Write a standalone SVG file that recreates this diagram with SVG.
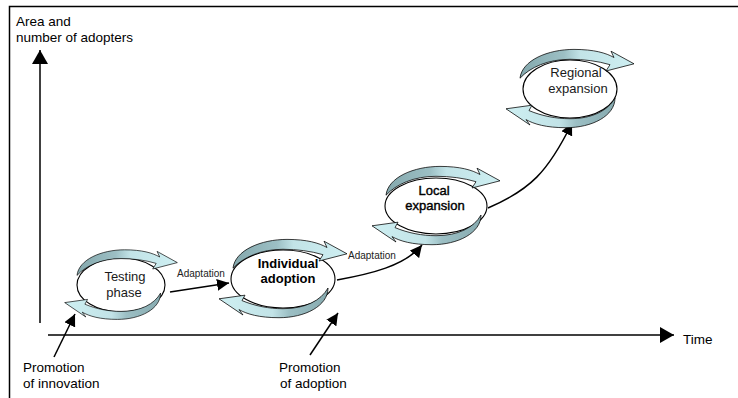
<svg xmlns="http://www.w3.org/2000/svg" width="738" height="398" viewBox="0 0 738 398">
<style>
.lbl{font-family:"Liberation Sans",Arial,sans-serif;font-size:13.5px;fill:#000}
.nl{font-family:"Liberation Sans",Arial,sans-serif;font-size:13px;fill:#1a1a1a;text-anchor:middle}
.b{font-weight:bold;fill:#000}
.sb{fill:#000;stroke:#000;stroke-width:0.4}
.ad{font-family:"Liberation Sans",Arial,sans-serif;font-size:10px;fill:#222}
.ln{fill:none;stroke:#000;stroke-width:1.5}
.ell{fill:#fff;stroke:#000;stroke-width:1.1}
.arc{fill:url(#g);stroke:#000;stroke-width:0.8;vector-effect:non-scaling-stroke}
</style>
<defs>
<linearGradient id="g" gradientUnits="userSpaceOnUse" x1="-50" y1="0" x2="60" y2="0">
<stop offset="0" stop-color="#84a8ad"/>
<stop offset="0.4" stop-color="#9cbfc4"/>
<stop offset="0.55" stop-color="#c2e3e7"/>
<stop offset="1" stop-color="#cdeef1"/>
</linearGradient>
<linearGradient id="g2" gradientUnits="userSpaceOnUse" x1="-60" y1="0" x2="50" y2="0">
<stop offset="0" stop-color="#cdeef1"/>
<stop offset="0.45" stop-color="#c2e3e7"/>
<stop offset="0.6" stop-color="#9cbfc4"/>
<stop offset="1" stop-color="#84a8ad"/>
</linearGradient>
<path id="up" d="M-50,-12 C-48,-32 -22,-44 4,-44 C24,-44 36,-40 44,-35 L41,-42 L64,-28 L36,-20 L40,-27 C28,-31 14,-33 0,-33 C-22,-33 -40,-24 -50,-12 Z"/>
<path id="dn" d="M45,10 C45,30 22,43 -4,43 C-24,43 -36,39 -44,34 L-40,40 L-64,22 L-38,18 L-41,24 C-28,30 -14,33 0,33 C22,33 38,24 45,10 Z"/>
<marker id="ah" markerUnits="userSpaceOnUse" markerWidth="12" markerHeight="12" refX="12" refY="6" orient="auto"><path d="M0,0 L12,6 L0,12 Z" fill="#000"/></marker>
<marker id="ax" markerUnits="userSpaceOnUse" markerWidth="14" markerHeight="16" refX="14" refY="8" orient="auto"><path d="M0,0 L14,8 L0,16 Z" fill="#000"/></marker>
</defs>
<rect width="738" height="398" fill="#fff"/>
<path class="ln" d="M9.5,398 L9.5,6.5 L738,6.5"/>

<g id="axes">
<path class="ln" d="M40,323 L40,50" marker-end="url(#ax)"/>
<path class="ln" d="M48,335 L674,335" marker-end="url(#ax)"/>
</g>
<text class="lbl" x="16" y="26">Area and</text>
<text class="lbl" x="16" y="42">number of adopters</text>
<text class="lbl" x="683" y="344">Time</text>

<g id="connectors">
<path class="ln" d="M170,292 L229,283" marker-end="url(#ah)"/>
<path class="ln" d="M337,280 C370,274 405,266 422,245" marker-end="url(#ah)"/>
<path class="ln" d="M488,208 C530,190 548,172 572,123" marker-end="url(#ah)"/>
<path class="ln" d="M54,357 L75,314" marker-end="url(#ah)"/>
<path class="ln" d="M310,355 L338,313" marker-end="url(#ah)"/>
</g>
<text class="ad" x="177" y="277">Adaptation</text>
<text class="ad" x="348" y="259">Adaptation</text>

<g id="testing">
<ellipse class="ell" cx="121" cy="285" rx="44" ry="27"/>
<g transform="translate(121,285) scale(0.88,0.8)"><use href="#up" class="arc"/><use href="#dn" class="arc" style="fill:url(#g2)"/></g>
<text class="nl" x="125" y="281">Testing</text>
<text class="nl" x="124" y="297">phase</text>
</g>

<g id="individual">
<ellipse class="ell" cx="283" cy="279" rx="52" ry="29"/>
<g transform="translate(283,279) scale(1.0,0.9)"><use href="#up" class="arc"/><use href="#dn" class="arc" style="fill:url(#g2)"/></g>
<text class="nl b" x="288" y="268">Individual</text>
<text class="nl b" x="288" y="283">adoption</text>
</g>

<g id="local">
<ellipse class="ell" cx="436" cy="206" rx="51" ry="28"/>
<g transform="translate(436,206) scale(1.0,0.9)"><use href="#up" class="arc"/><use href="#dn" class="arc" style="fill:url(#g2)"/></g>
<text class="nl sb" x="434" y="195">Local</text>
<text class="nl sb" x="435" y="210">expansion</text>
</g>

<g id="regional">
<ellipse class="ell" cx="570" cy="89" rx="47" ry="29"/>
<g transform="translate(570,89) scale(1.0,0.9)"><use href="#up" class="arc"/><use href="#dn" class="arc" style="fill:url(#g2)"/></g>
<text class="nl" x="576" y="77">Regional</text>
<text class="nl" x="578" y="93">expansion</text>
</g>

<text class="lbl" x="23" y="372">Promotion</text>
<text class="lbl" x="23" y="388">of innovation</text>
<text class="lbl" x="279" y="372">Promotion</text>
<text class="lbl" x="280" y="388">of adoption</text>
</svg>
